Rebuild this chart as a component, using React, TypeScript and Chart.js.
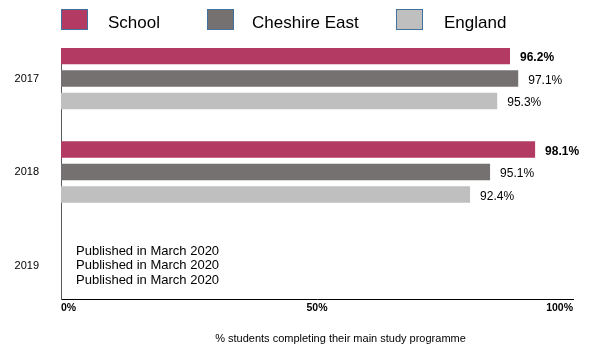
import React, { useEffect, useRef } from 'react';
import { Chart, registerables } from 'chart.js';

Chart.register(...registerables);

const years = ['2017', '2018', '2019'];
const seriesNames = ['School', 'Cheshire East', 'England'];
// bar lengths as drawn (percent of axis)
const schoolValues: (number | null)[] = [87.7, 92.6, null];
const cheshireEastValues: (number | null)[] = [89.3, 83.8, null];
const englandValues: (number | null)[] = [85.2, 79.9, null];
// value labels printed next to the bars
const schoolLabels = ['96.2%', '98.1%', ''];
const cheshireEastLabels = ['97.1%', '95.1%', ''];
const englandLabels = ['95.3%', '92.4%', ''];
const pendingNote = 'Published in March 2020';
const xTickValues = [0, 50, 100];
const xTitle = '% students completing their main study programme';

const seriesColors = ['#b33a63', '#767171', '#bfbfbf'];
const FONT = '"Liberation Sans", Arial, Helvetica, sans-serif';

const allValues = [schoolValues, cheshireEastValues, englandValues];
const allLabels = [schoolLabels, cheshireEastLabels, englandLabels];

const overlayPlugin = {
  id: 'overlay',
  afterDatasetsDraw(chart: any) {
    const ctx = chart.ctx as CanvasRenderingContext2D;
    const xs = chart.scales.x;
    const ys = chart.scales.y;
    ctx.save();
    ctx.fillStyle = '#000';
    ctx.textAlign = 'left';
    ctx.textBaseline = 'middle';
    chart.data.datasets.forEach((ds: any, di: number) => {
      const meta = chart.getDatasetMeta(di);
      ds.data.forEach((pt: any, i: number) => {
        if (pt.x == null) {
          ctx.font = `13px ${FONT}`;
          ctx.fillText(
            pendingNote,
            xs.getPixelForValue(0) + 15,
            ys.getPixelForValue(pt.y) + (di - 1) * 14.5
          );
        } else {
          const el = meta.data[i];
          ctx.font = `${di === 0 ? 'bold ' : ''}12px ${FONT}`;
          ctx.fillText(allLabels[di][i], el.x + 10, el.y + 2);
        }
      });
    });
    ctx.restore();
  },
  afterDraw(chart: any) {
    const ctx = chart.ctx as CanvasRenderingContext2D;
    ctx.save();
    // legend
    const boxX = [61, 207, 396];
    const textX = [108, 252, 444];
    seriesNames.forEach((name, i) => {
      ctx.fillStyle = seriesColors[i];
      ctx.fillRect(boxX[i] + 0.5, 9.5, 26, 20);
      ctx.strokeStyle = '#41719c';
      ctx.lineWidth = 1;
      ctx.strokeRect(boxX[i] + 0.5, 9.5, 26, 20);
      ctx.fillStyle = '#000';
      ctx.font = `17px ${FONT}`;
      ctx.textAlign = 'left';
      ctx.textBaseline = 'alphabetic';
      ctx.fillText(name, textX[i], 28);
    });
    // axis title
    ctx.font = `11px ${FONT}`;
    ctx.textAlign = 'center';
    ctx.textBaseline = 'alphabetic';
    ctx.fillStyle = '#000';
    ctx.fillText(xTitle, 340.5, 342);
    ctx.restore();
  },
};

export default function App() {
  const canvasRef = useRef<HTMLCanvasElement | null>(null);

  useEffect(() => {
    const canvas = canvasRef.current;
    if (!canvas) return;
    const chart = new Chart(canvas, {
      type: 'bar',
      data: {
        datasets: seriesNames.map((name, i) => ({
          label: name,
          data: allValues[i].map((v, j) => ({ x: v, y: j })),
          backgroundColor: seriesColors[i],
          borderWidth: 0,
          categoryPercentage: 0.722,
          barPercentage: 0.733,
        })),
      },
      options: {
        indexAxis: 'y',
        responsive: false,
        animation: false,
        devicePixelRatio: 1,
        layout: { padding: { top: 48, right: 34, bottom: 0, left: 0 } },
        plugins: {
          legend: { display: false },
          tooltip: { enabled: false },
          title: { display: false },
        },
        scales: {
          x: {
            type: 'linear',
            min: 0,
            max: 100,
            afterBuildTicks: (scale: any) => {
              scale.ticks = xTickValues.map((v) => ({ value: v }));
            },
            afterFit: (scale: any) => {
              scale.height = 52;
            },
            grid: { display: false, drawTicks: false },
            border: { display: true, color: '#000', width: 1 },
            ticks: {
              align: 'inner',
              padding: 3,
              color: '#000',
              font: { family: FONT, size: 10.5, weight: 'bold' },
              callback: (v: any) => `${v}%`,
              maxRotation: 0,
              autoSkip: false,
            },
          },
          y: {
            type: 'linear',
            offset: false,
            reverse: true,
            min: -0.3262,
            max: 2.3583,
            bounds: 'data',
            afterBuildTicks: (scale: any) => {
              scale.ticks = years.map((_, j) => ({ value: j }));
            },
            afterFit: (scale: any) => {
              scale.width = 61;
            },
            grid: { display: false, drawTicks: false, offset: false },
            border: { display: true, color: '#595959', width: 1 },
            ticks: {
              padding: 22,
              color: '#000',
              font: { family: FONT, size: 11 },
              callback: (v: any) => years[v] ?? '',
              autoSkip: false,
            },
          },
        },
      },
      plugins: [overlayPlugin],
    } as any);
    return () => chart.destroy();
  }, []);

  return (
    <div style={{ position: 'absolute', left: 0, top: 0, width: 607, height: 351, background: '#fff' }}>
      <canvas ref={canvasRef} width={607} height={351} style={{ display: 'block' }} />
    </div>
  );
}
